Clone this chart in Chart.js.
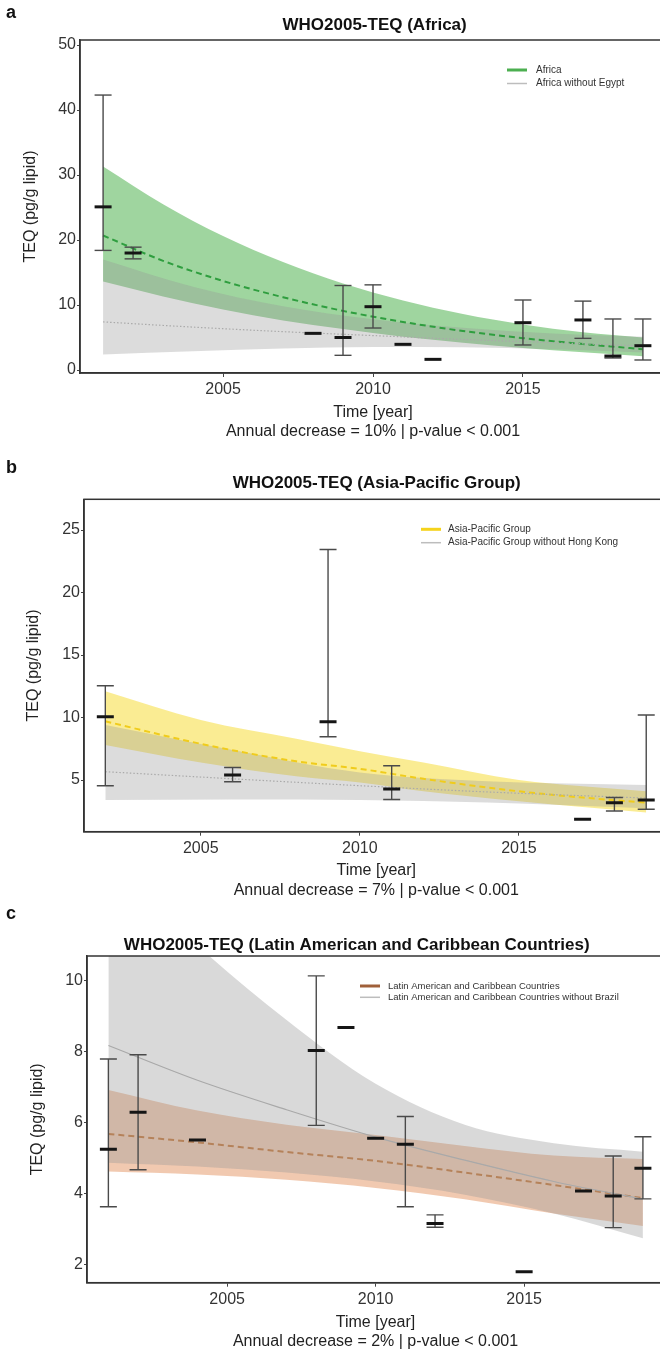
<!DOCTYPE html>
<html>
<head>
<meta charset="utf-8">
<script src="https://cdn.jsdelivr.net/npm/chart.js@4.4.1/dist/chart.umd.min.js"></script>
<style>
  html, body { margin: 0; padding: 0; background: #fff; width: 660px; height: 1352px; overflow: hidden; }
  canvas { position: absolute; left: 0; }
</style>
</head>
<body>
<canvas id="panelA" width="680" height="450" style="top:0px"></canvas>
<canvas id="panelB" width="680" height="450" style="top:450px"></canvas>
<canvas id="panelC" width="680" height="452" style="top:900px"></canvas>
<script>
// ---------- Africa ----------
const africaYears = [2001, 2002, 2008, 2009, 2010, 2011, 2012, 2015, 2017, 2018, 2019];
const africaMean  = [25.1, 18.0, 5.64, 5.0, 9.74, 3.95, 1.64, 7.28, 7.7, 2.15, 3.74];
const africaUpper = [42.3, 18.9, null, 13.0, 13.1, null, null, 10.77, 10.6, 7.85, 7.85];
const africaLower = [18.4, 17.1, null, 2.26, 6.46, null, null, 3.85, 4.87, 1.85, 1.54];
const africaFitYears = [2001, 2003, 2005, 2007, 2009, 2011, 2013, 2015, 2017, 2019];
const africaFit   = [20.7, 16.8, 13.7, 11.2, 9.1, 7.4, 6.0, 4.9, 4.0, 3.2];
const africaFitHi = [31.3, 25.5, 20.6, 16.6, 13.3, 10.7, 8.6, 7.0, 5.8, 5.0];
const africaFitLo = [13.6, 11.3, 9.3, 7.6, 6.3, 5.1, 4.2, 3.4, 2.75, 2.1];
const africaAltYears = [2001, 2004, 2007, 2010, 2013, 2016, 2019];
const africaAlt   = [7.4, 6.6, 5.9, 5.3, 4.7, 4.2, 3.7];
const africaAltHi = [17.0, 12.8, 9.8, 7.8, 6.5, 5.6, 5.1];
const africaAltLo = [2.4, 2.9, 3.3, 3.55, 3.5, 3.2, 2.7];
const africaYTicks = [0, 10, 20, 30, 40, 50];
const africaLegend = ['Africa', 'Africa without Egypt'];

// ---------- Asia-Pacific ----------
const asiaYears = [2002, 2006, 2009, 2011, 2017, 2018, 2019];
const asiaMean  = [10.06, 5.4, 9.67, 4.28, 1.86, 3.19, 3.4];
const asiaUpper = [12.55, 6.0, 23.45, 6.15, null, 3.6, 10.2];
const asiaLower = [4.55, 4.87, 8.47, 3.45, null, 2.52, 2.66];
const asiaFitYears = [2002, 2005, 2008, 2010, 2012, 2015, 2017, 2019];
const asiaFit   = [9.7, 7.9, 6.5, 5.9, 5.1, 4.1, 3.6, 3.2];
const asiaFitHi = [12.1, 9.8, 8.3, 7.3, 6.4, 5.0, 4.5, 4.1];
const asiaFitLo = [7.8, 6.4, 5.3, 4.8, 4.1, 3.3, 2.85, 2.4];
const asiaAltYears = [2002, 2006, 2010, 2014, 2019];
const asiaAlt   = [5.67, 5.1, 4.55, 4.05, 3.56];
const asiaAltHi = [9.4, 7.4, 5.6, 4.9, 4.6];
const asiaAltLo = [3.4, 3.45, 3.4, 3.2, 2.75];
const asiaYTicks = [5, 10, 15, 20, 25];
const asiaLegend = ['Asia-Pacific Group', 'Asia-Pacific Group without Hong Kong'];

// ---------- Latin America and Caribbean ----------
const latinYears = [2001, 2002, 2004, 2008, 2009, 2010, 2011, 2012, 2015, 2017, 2018, 2019];
const latinMean  = [5.26, 6.3, 5.52, 8.04, 8.69, 5.57, 5.4, 3.17, 1.81, 4.08, 3.94, 4.72];
const latinUpper = [7.8, 7.92, null, 10.14, null, null, 6.18, 3.41, null, null, 5.07, 5.61];
const latinLower = [3.64, 4.68, null, 5.93, null, null, 3.64, 3.06, null, null, 3.05, 3.86];
const latinFitYears = [2001, 2004, 2007, 2010, 2013, 2016, 2019];
const latinFit   = [5.69, 5.45, 5.18, 4.93, 4.6, 4.25, 3.88];
const latinFitHi = [6.93, 6.35, 5.95, 5.66, 5.35, 5.08, 4.98];
const latinFitLo = [4.63, 4.55, 4.4, 4.17, 3.85, 3.45, 3.1];
const latinAltYears = [2001, 2004, 2007, 2010, 2013, 2016, 2019];
const latinAlt   = [8.18, 7.2, 6.37, 5.6, 4.95, 4.35, 3.85];
const latinAltHi = [13.5, 11.0, 8.9, 7.1, 5.95, 5.43, 5.19];
const latinAltLo = [4.88, 4.77, 4.6, 4.35, 3.98, 3.45, 2.75];
const latinYTicks = [2, 4, 6, 8, 10];
const latinLegend = ['Latin American and Caribbean Countries', 'Latin American and Caribbean Countries without Brazil'];

const xTickYears = [2005, 2010, 2015];

const FONT = '"Liberation Sans", Arial, Helvetica, sans-serif';

const pts = (xs, ys) => xs.map((x, i) => ({ x, y: ys[i] }));

// Titles, axis labels, frame and in-panel legend
const decor = {
  id: 'decor',
  afterDraw(chart, _args, o) {
    const { ctx, chartArea: c } = chart;
    ctx.save();
    ctx.strokeStyle = '#333';
    ctx.lineWidth = 1.5;
    ctx.strokeRect(c.left, c.top, c.right - c.left, c.bottom - c.top);

    ctx.fillStyle = '#111';
    ctx.textBaseline = 'alphabetic';
    ctx.textAlign = 'left';
    ctx.font = `bold 18px ${FONT}`;
    ctx.fillText(o.letter, 6, o.letterY);

    ctx.textAlign = 'center';
    ctx.font = `bold 17px ${FONT}`;
    ctx.fillText(o.title, o.titleX, o.titleY);

    const cx = (c.left + c.right) / 2;
    ctx.fillStyle = '#222';
    ctx.font = `16px ${FONT}`;
    ctx.fillText('Time [year]', cx, o.xTitleY);
    ctx.fillText(o.note, cx, o.noteY);

    ctx.save();
    ctx.translate(o.yTitleX, (c.top + c.bottom) / 2);
    ctx.rotate(-Math.PI / 2);
    ctx.textBaseline = 'middle';
    ctx.fillText('TEQ (pg/g lipid)', 0, 0);
    ctx.restore();

    ctx.textAlign = 'left';
    ctx.textBaseline = 'middle';
    ctx.font = `${o.legendSize}px ${FONT}`;
    o.legend.forEach((item, i) => {
      const y = o.legendY + i * o.legendGap;
      ctx.strokeStyle = item.color;
      ctx.lineWidth = item.width;
      ctx.beginPath();
      ctx.moveTo(o.legendX, y);
      ctx.lineTo(o.legendX + 20, y);
      ctx.stroke();
      ctx.fillStyle = '#333';
      ctx.fillText(item.text, o.legendX + o.legendTextGap, y);
    });
    ctx.restore();
  }
};

function panel(id, d, look, text) {
  const bars = [];
  const caps = [];
  d.years.forEach((yr, i) => {
    if (d.upper[i] !== null) {
      bars.push({ x: yr, y: d.lower[i] }, { x: yr, y: d.upper[i] }, { x: yr, y: null });
      caps.push({ x: yr, y: d.upper[i] }, { x: yr, y: d.lower[i] });
    }
  });
  const band = (data, extra) => Object.assign({
    data, pointRadius: 0, borderWidth: 0, borderColor: 'rgba(0,0,0,0)',
    cubicInterpolationMode: 'monotone', fill: false
  }, extra);

  const datasets = [
    band(pts(d.fitYears, d.fitHi), { fill: '+1', backgroundColor: look.band, order: 10 }),
    band(pts(d.fitYears, d.fitLo), { order: 10 }),
    band(pts(d.altYears, d.altHi), { fill: '+1', backgroundColor: look.altBand, order: 9 }),
    band(pts(d.altYears, d.altLo), { order: 9 }),
    { data: pts(d.fitYears, d.fit), borderColor: look.line, borderWidth: 2, borderDash: [6, 4],
      pointRadius: 0, cubicInterpolationMode: 'monotone', fill: false, order: 4 },
    { data: pts(d.altYears, d.alt), borderColor: look.altLine, borderWidth: 1.2, borderDash: look.altDash,
      pointRadius: 0, cubicInterpolationMode: 'monotone', fill: false, order: 3 },
    { data: bars, borderColor: '#4a4a4a', borderWidth: 1.4, pointRadius: 0, spanGaps: false, fill: false, order: 2 },
    { data: caps, showLine: false, pointStyle: 'line', pointRadius: 8.5, pointBorderWidth: 1.4,
      pointBorderColor: '#4a4a4a', pointBackgroundColor: '#4a4a4a', order: 1 },
    { data: pts(d.years, d.mean), showLine: false, pointStyle: 'line', pointRadius: 8.5, pointBorderWidth: 3,
      pointBorderColor: '#151515', pointBackgroundColor: '#151515', order: 0 }
  ];

  return new Chart(document.getElementById(id), {
    type: 'line',
    data: { datasets },
    plugins: [decor],
    options: {
      responsive: false,
      devicePixelRatio: 1,
      animation: false,
      events: [],
      layout: { padding: { left: 0, right: look.padRight, top: look.padTop, bottom: look.padBottom } },
      plugins: {
        legend: { display: false },
        tooltip: { enabled: false },
        decor: text
      },
      scales: {
        x: {
          type: 'linear', min: look.xMin, max: look.xMax,
          afterBuildTicks: s => { s.ticks = xTickYears.map(v => ({ value: v })); },
          afterFit: s => { s.height = 30; },
          ticks: { callback: v => String(v), color: '#333', padding: 3, font: { family: FONT, size: 16 } },
          grid: { drawOnChartArea: false, drawTicks: true, tickLength: 4, color: '#444' },
          border: { color: '#333', width: 1.5 }
        },
        y: {
          type: 'linear', min: look.yMin, max: look.yMax,
          afterBuildTicks: s => { s.ticks = d.yTicks.map(v => ({ value: v })); },
          afterFit: s => { s.width = look.yWidth; },
          ticks: { callback: v => String(v), color: '#333', padding: 1, font: { family: FONT, size: 16 } },
          grid: { drawOnChartArea: false, drawTicks: true, tickLength: 3, color: '#444' },
          border: { color: '#333', width: 1.5 }
        }
      }
    }
  });
}

panel('panelA',
  { years: africaYears, mean: africaMean, upper: africaUpper, lower: africaLower,
    fitYears: africaFitYears, fit: africaFit, fitHi: africaFitHi, fitLo: africaFitLo,
    altYears: africaAltYears, alt: africaAlt, altHi: africaAltHi, altLo: africaAltLo, yTicks: africaYTicks },
  { band: 'rgba(50,165,50,0.47)', altBand: 'rgba(150,150,150,0.33)', line: '#2f9e3f', altLine: '#aaaaaa',
    altDash: [1.5, 2], xMin: 2000.23, xMax: 2019.77, yMin: -0.46, yMax: 50.77,
    yWidth: 80, padTop: 40, padBottom: 47, padRight: 14 },
  { letter: 'a', letterY: 17.5, title: 'WHO2005-TEQ (Africa)', titleX: 374.6, titleY: 29.5,
    xTitleY: 416.5, note: 'Annual decrease = 10% | p-value < 0.001', noteY: 435.7, yTitleX: 31,
    legendX: 507, legendY: 70, legendGap: 13.5, legendTextGap: 29, legendSize: 10,
    legend: [{ text: africaLegend[0], color: '#4caf50', width: 3 }, { text: africaLegend[1], color: '#bdbdbd', width: 1.5 }] });

panel('panelB',
  { years: asiaYears, mean: asiaMean, upper: asiaUpper, lower: asiaLower,
    fitYears: asiaFitYears, fit: asiaFit, fitHi: asiaFitHi, fitLo: asiaFitLo,
    altYears: asiaAltYears, alt: asiaAlt, altHi: asiaAltHi, altLo: asiaAltLo, yTicks: asiaYTicks },
  { band: 'rgba(245,215,30,0.48)', altBand: 'rgba(150,150,150,0.33)', line: '#f0cc1c', altLine: '#aaaaaa',
    altDash: [1.5, 2], xMin: 2001.33, xMax: 2019.7, yMin: 0.87, yMax: 27.46,
    yWidth: 84, padTop: 49.3, padBottom: 38.3, padRight: 10 },
  { letter: 'b', letterY: 22.5, title: 'WHO2005-TEQ (Asia-Pacific Group)', titleX: 376.7, titleY: 38,
    xTitleY: 425, note: 'Annual decrease = 7% | p-value < 0.001', noteY: 445, yTitleX: 34,
    legendX: 421, legendY: 79.3, legendGap: 13.4, legendTextGap: 27, legendSize: 10,
    legend: [{ text: asiaLegend[0], color: '#f5d31c', width: 3 }, { text: asiaLegend[1], color: '#bdbdbd', width: 1.5 }] });

panel('panelC',
  { years: latinYears, mean: latinMean, upper: latinUpper, lower: latinLower,
    fitYears: latinFitYears, fit: latinFit, fitHi: latinFitHi, fitLo: latinFitLo,
    altYears: latinAltYears, alt: latinAlt, altHi: latinAltHi, altLo: latinAltLo, yTicks: latinYTicks },
  { band: 'rgba(225,135,80,0.45)', altBand: 'rgba(150,150,150,0.36)', line: '#b5825a', altLine: '#a9a9a9',
    altDash: [], xMin: 2000.28, xMax: 2019.71, yMin: 1.5, yMax: 10.7,
    yWidth: 87, padTop: 56, padBottom: 39.3, padRight: 16 },
  { letter: 'c', letterY: 18.5, title: 'WHO2005-TEQ (Latin American and Caribbean Countries)', titleX: 356.7, titleY: 50,
    xTitleY: 426.7, note: 'Annual decrease = 2% | p-value < 0.001', noteY: 445.7, yTitleX: 38,
    legendX: 360, legendY: 86, legendGap: 11.3, legendTextGap: 28, legendSize: 9.5,
    legend: [{ text: latinLegend[0], color: '#a0603a', width: 3 }, { text: latinLegend[1], color: '#bdbdbd', width: 1.5 }] });
</script>
</body>
</html>
